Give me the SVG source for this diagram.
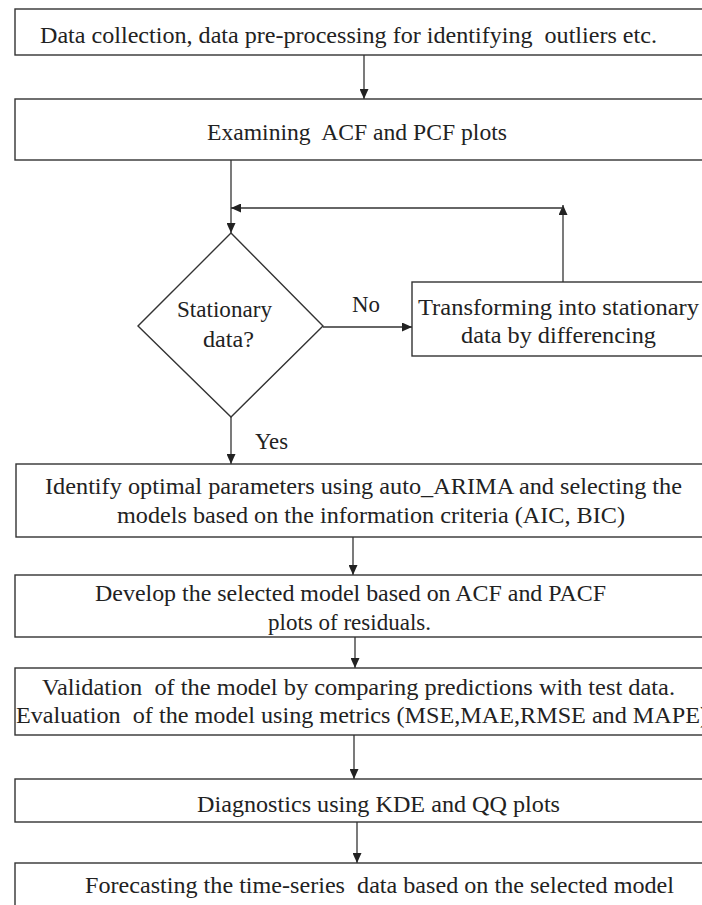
<svg xmlns="http://www.w3.org/2000/svg" width="702" height="905" viewBox="0 0 702 905">
<style>
.box{fill:#fff;stroke:#333;stroke-width:1.4}
.ln{fill:none;stroke:#333;stroke-width:1.3}
.t{font-family:"Liberation Serif","Times New Roman",serif;font-size:23px;fill:#222}
</style>
<defs>
<marker id="ah" markerUnits="userSpaceOnUse" markerWidth="10" markerHeight="9" refX="10" refY="4.5" orient="auto">
<path d="M0,0 L10,4.5 L0,9 z" fill="#222"/>
</marker>
</defs>
<rect width="702" height="905" fill="#fff"/>
<g id="connectors">
<path class="ln" d="M364,55 V99" marker-end="url(#ah)"/>
<path class="ln" d="M231,160 V233" marker-end="url(#ah)"/>
<path class="ln" d="M563,282 V205" marker-end="url(#ah)"/>
<path class="ln" d="M563,208 H231" marker-end="url(#ah)"/>
<path class="ln" d="M323,327 H412" marker-end="url(#ah)"/>
<path class="ln" d="M231,417 V464" marker-end="url(#ah)"/>
<path class="ln" d="M353,537 V575" marker-end="url(#ah)"/>
<path class="ln" d="M355,637 V668" marker-end="url(#ah)"/>
<path class="ln" d="M354,735 V779" marker-end="url(#ah)"/>
<path class="ln" d="M357,822 V863" marker-end="url(#ah)"/>
<text class="t" x="352" y="312" textLength="28" lengthAdjust="spacingAndGlyphs">No</text>
<text class="t" x="255" y="449" textLength="33" lengthAdjust="spacingAndGlyphs">Yes</text>
</g>
<g id="n1">
<rect class="box" x="15" y="9" width="700" height="46"/>
<text class="t" x="40" y="43" textLength="617" lengthAdjust="spacingAndGlyphs" xml:space="preserve">Data collection, data pre-processing for identifying  outliers etc.</text>
</g>
<g id="n2">
<rect class="box" x="15" y="99" width="700" height="61"/>
<text class="t" x="207" y="140" textLength="300" lengthAdjust="spacingAndGlyphs" xml:space="preserve">Examining  ACF and PCF plots</text>
</g>
<g id="n3">
<path class="box" d="M231,233 L323,326 L231,417 L138,326 Z"/>
<text class="t" x="177" y="317" textLength="95" lengthAdjust="spacingAndGlyphs">Stationary</text>
<text class="t" x="203" y="347" textLength="51" lengthAdjust="spacingAndGlyphs">data?</text>
</g>
<g id="n4">
<rect class="box" x="412" y="282" width="300" height="74"/>
<text class="t" x="418" y="315" textLength="281" lengthAdjust="spacingAndGlyphs">Transforming into stationary</text>
<text class="t" x="461" y="343" textLength="195" lengthAdjust="spacingAndGlyphs">data by differencing</text>
</g>
<g id="n5">
<rect class="box" x="16" y="464" width="700" height="73"/>
<text class="t" x="45" y="494" textLength="637" lengthAdjust="spacingAndGlyphs">Identify optimal parameters using auto_ARIMA and selecting the</text>
<text class="t" x="117" y="523" textLength="508" lengthAdjust="spacingAndGlyphs">models based on the information criteria (AIC, BIC)</text>
</g>
<g id="n6">
<rect class="box" x="15" y="575" width="700" height="62"/>
<text class="t" x="95" y="601" textLength="511" lengthAdjust="spacingAndGlyphs">Develop the selected model based on ACF and PACF</text>
<text class="t" x="268" y="630" textLength="163" lengthAdjust="spacingAndGlyphs">plots of residuals.</text>
</g>
<g id="n7">
<rect class="box" x="15" y="668" width="700" height="67"/>
<text class="t" x="42" y="695" textLength="633" lengthAdjust="spacingAndGlyphs" xml:space="preserve">Validation  of the model by comparing predictions with test data.</text>
<text class="t" x="16" y="723" textLength="692" lengthAdjust="spacingAndGlyphs" xml:space="preserve">Evaluation  of the model using metrics (MSE,MAE,RMSE and MAPE)</text>
</g>
<g id="n8">
<rect class="box" x="15" y="779" width="700" height="43"/>
<text class="t" x="197" y="812" textLength="363" lengthAdjust="spacingAndGlyphs">Diagnostics using KDE and QQ plots</text>
</g>
<g id="n9">
<rect class="box" x="15" y="863" width="700" height="60"/>
<text class="t" x="85" y="893" textLength="589" lengthAdjust="spacingAndGlyphs" xml:space="preserve">Forecasting the time-series  data based on the selected model</text>
</g>
</svg>
